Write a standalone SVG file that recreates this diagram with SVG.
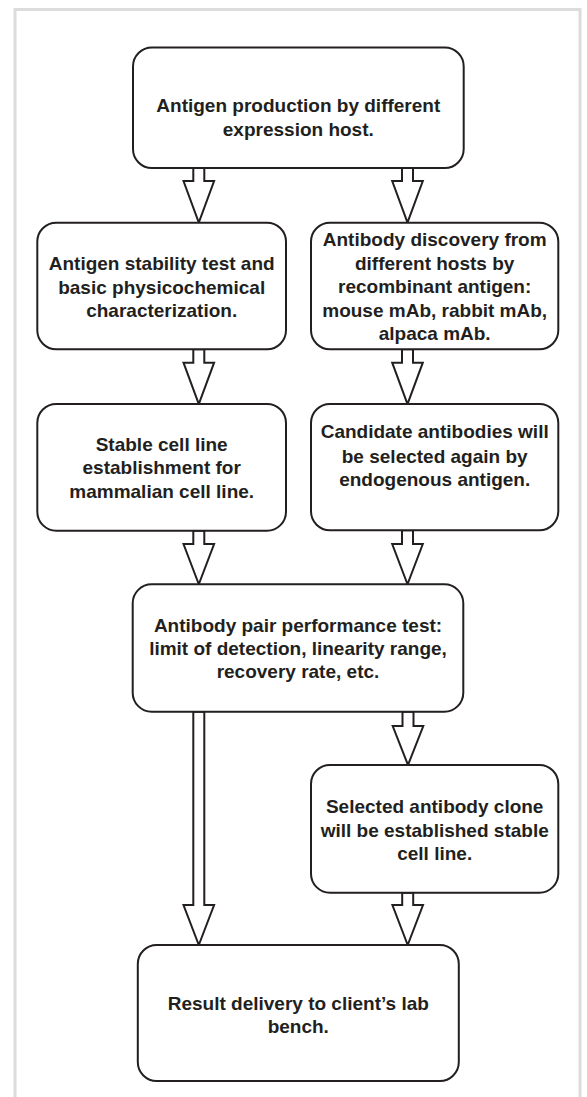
<svg xmlns="http://www.w3.org/2000/svg" width="587" height="1097" viewBox="0 0 587 1097">
<style>
.box{fill:#fff;stroke:#231f20;stroke-width:2}
.arr{fill:#fff;stroke:#231f20;stroke-width:2;stroke-linejoin:miter}
text{font-family:"Liberation Sans",Arial,sans-serif;font-weight:bold;font-size:19px;fill:#231f20;text-anchor:middle}
</style>
<rect width="587" height="1097" fill="#fff"/>
<path d="M15,1097 V9.5 H580 V1097" fill="none" stroke="#dcdcdc" stroke-width="3"/>
<g id="connectors">
<path class="arr" d="M193.3,168 V181 H183.5 L198.8,222.7 L214.1,181 H204.3 V168 Z"/>
<path class="arr" d="M402,168 V181 H392.2 L407.5,222.7 L422.8,181 H413 V168 Z"/>
<path class="arr" d="M193.3,349.3 V362.7 H183.5 L198.8,404 L214.1,362.7 H204.3 V349.3 Z"/>
<path class="arr" d="M402,349.3 V362.7 H392.2 L407.5,404 L422.8,362.7 H413 V349.3 Z"/>
<path class="arr" d="M193.3,530.7 V544 H183.5 L198.8,584.3 L214.1,544 H204.3 V530.7 Z"/>
<path class="arr" d="M402,530.3 V544 H392.2 L407.5,584.3 L422.8,544 H413 V530.3 Z"/>
<path class="arr" d="M193.3,711.7 V905 H183.5 L198.8,945 L214.1,905 H204.3 V711.7 Z"/>
<path class="arr" d="M402.5,711.7 V726 H392.7 L408,765 L423.3,726 H413.5 V711.7 Z"/>
<path class="arr" d="M402.2,892.7 V905 H392.4 L407.7,945 L423,905 H413.2 V892.7 Z"/>
</g>
<g id="n1">
<rect class="box" x="133" y="47.5" width="330.7" height="120.5" rx="19"/>
<text x="298.3" y="112.3">Antigen production by different</text>
<text x="298.3" y="135.8">expression host.</text>
</g>
<g id="n2">
<rect class="box" x="37.3" y="222.7" width="248.7" height="126.6" rx="19"/>
<text x="161.7" y="270">Antigen stability test and</text>
<text x="161.7" y="293.5">basic physicochemical</text>
<text x="161.7" y="317">characterization.</text>
</g>
<g id="n3">
<rect class="box" x="311" y="222.7" width="247.3" height="126.6" rx="19"/>
<text x="434.7" y="246">Antibody discovery from</text>
<text x="434.7" y="269.7">different hosts by</text>
<text x="434.7" y="293.3">recombinant antigen:</text>
<text x="434.7" y="316.7">mouse mAb, rabbit mAb,</text>
<text x="434.7" y="340.3">alpaca mAb.</text>
</g>
<g id="n4">
<rect class="box" x="37.3" y="404" width="248.7" height="126.7" rx="19"/>
<text x="161.7" y="450.7">Stable cell line</text>
<text x="161.7" y="474.3">establishment for</text>
<text x="161.7" y="497.7">mammalian cell line.</text>
</g>
<g id="n5">
<rect class="box" x="311" y="404" width="247.3" height="126.3" rx="19"/>
<text x="434.7" y="438.3">Candidate antibodies will</text>
<text x="434.7" y="462.7">be selected again by</text>
<text x="434.7" y="486">endogenous antigen.</text>
</g>
<g id="n6">
<rect class="box" x="132.7" y="584.3" width="330.6" height="127.4" rx="19"/>
<text x="298" y="631.7">Antibody pair performance test:</text>
<text x="298" y="655">limit of detection, linearity range,</text>
<text x="298" y="678.3">recovery rate, etc.</text>
</g>
<g id="n7">
<rect class="box" x="311" y="765" width="247.3" height="127.7" rx="19"/>
<text x="434.7" y="812.7">Selected antibody clone</text>
<text x="434.7" y="836.7">will be established stable</text>
<text x="434.7" y="860">cell line.</text>
</g>
<g id="n8">
<rect class="box" x="137.8" y="945" width="321" height="136" rx="19"/>
<text x="298.3" y="1009.5">Result delivery to client’s lab</text>
<text x="298.3" y="1033">bench.</text>
</g>
</svg>
